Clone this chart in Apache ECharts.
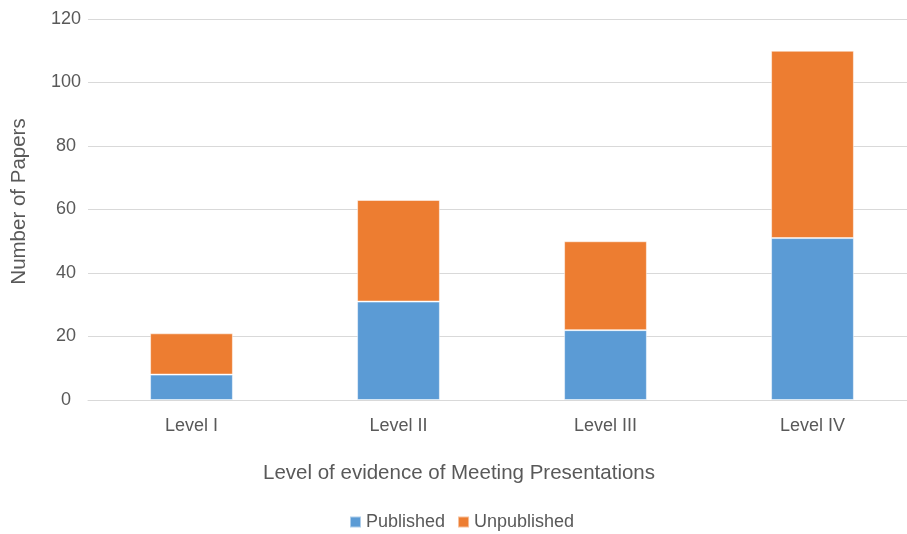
<!DOCTYPE html>
<html><head><meta charset="utf-8">
<script src="https://cdn.jsdelivr.net/npm/echarts@6/dist/echarts.min.js"></script>
<style>html,body{margin:0;padding:0;background:#fff}#c{width:907px;height:534px}</style>
</head><body><div id="c"></div>
<script>
const categories = ['Level I', 'Level II', 'Level III', 'Level IV'];
const published = [8, 31, 22, 51];
const unpublished = [13, 32, 28, 59];
const yTicks = [0, 20, 40, 60, 80, 100, 120];

const font = 'Liberation Sans, Arial, Helvetica, sans-serif';
const txt = '#595959';
const chart = echarts.init(document.getElementById('c'));
chart.setOption({
  animation: false,
  textStyle: { fontFamily: font },
  grid: { left: 88, top: 19, width: 828, height: 381, containLabel: false, outerBoundsMode: 'none' },
  legend: {
    data: ['Published', 'Unpublished'],
    bottom: 3, left: 349, padding: 0,
    itemWidth: 11, itemHeight: 11, itemGap: 12,
    icon: 'rect',
    textStyle: { color: txt, fontSize: 18, fontFamily: font, padding: [0, 0, 0, 0] }
  },
  xAxis: {
    type: 'category', data: categories,
    name: 'Level of evidence of Meeting Presentations',
    nameLocation: 'middle', nameGap: 63,
    nameTextStyle: { color: txt, fontSize: 20.5, fontFamily: font, padding: [0, 86, 0, 0] },
    axisLine: { show: true, lineStyle: { color: '#d9d9d9', width: 1 } },
    axisTick: { show: false },
    axisLabel: { color: txt, fontSize: 18, margin: 17, fontFamily: font }
  },
  yAxis: {
    type: 'value', min: yTicks[0], max: yTicks[yTicks.length - 1], interval: 20,
    name: 'Number of Papers', nameLocation: 'middle', nameGap: 58, nameRotate: 90,
    nameTextStyle: { color: txt, fontSize: 20.5, fontFamily: font, padding: [0, 0, 0, 16] },
    axisLine: { show: false }, axisTick: { show: false },
    axisLabel: { color: txt, fontSize: 18, margin: 22, align: 'center', fontFamily: font },
    splitLine: { lineStyle: { color: '#d9d9d9', width: 1 } }
  },
  series: [
    { name: 'Published', type: 'bar', stack: 'a', data: published, barWidth: '40%',
      itemStyle: { color: '#5B9BD5', borderColor: 'rgba(255,255,255,0.5)', borderWidth: 1 } },
    { name: 'Unpublished', type: 'bar', stack: 'a', data: unpublished, barWidth: '40%',
      itemStyle: { color: '#ED7D31', borderColor: 'rgba(255,255,255,0.5)', borderWidth: 1 } }
  ]
});
</script></body></html>
